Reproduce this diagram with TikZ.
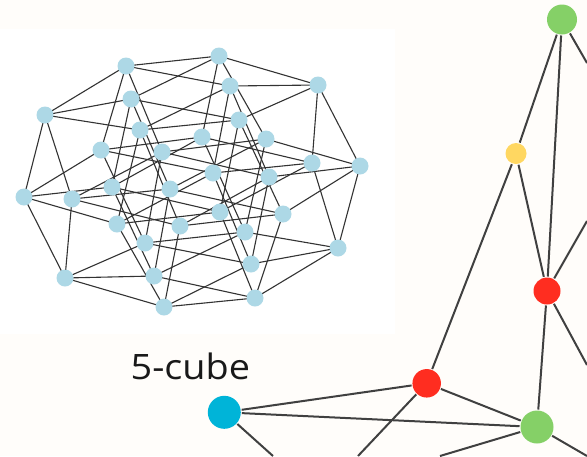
\documentclass[tikz,border=0pt]{standalone}
\usepackage{fontspec}
\setmainfont[FakeStretch=1.08]{Open Sans}
\definecolor{paper}{HTML}{FFFDFA}
\definecolor{cubeblue}{HTML}{ADD8E6}
\definecolor{wire}{HTML}{404040}
\definecolor{leaf}{HTML}{85D067}
\definecolor{sun}{HTML}{FFD761}
\definecolor{hot}{HTML}{FF2D20}
\definecolor{sky}{HTML}{00B4D8}
\tikzset{
  cubev/.style={circle,fill=cubeblue,draw=none,minimum size=17pt,inner sep=0pt},
  cubee/.style={draw=black!80,line width=1.1pt},
  bigv/.style={circle,draw=none,inner sep=0pt,outer sep=1pt},
  bige/.style={draw=wire,line width=2pt}
}
\begin{document}
\begin{tikzpicture}[x=1pt,y=-1pt]
\useasboundingbox (0,0) rectangle (587,456);
\fill[paper] (0,0) rectangle (587,456);
\fill[white] (0,29) rectangle (395,334);
% 5-cube vertices, named by the binary label of each corner
\foreach \n/\x/\y in {0/45/115,1/126/66,2/131/99,4/140/130,8/24/197,16/72/199,
  3/219/56,5/230/86,6/239/120,9/101/150,10/112/187,12/117/224,17/162/152,18/170/189,20/180/226,24/65/278,
  7/318/85,11/202/137,13/213/173,14/220/212,19/266/139,21/269/177,22/283/214,25/145/243,26/154/276,28/164/307,
  15/312/163,23/360/166,27/245/232,29/251/264,30/255/298,31/338/248}
  \coordinate (p\n) at (\x,\y);
\foreach \a/\blist in {0/{1,2,4,8,16},3/{1,2,7,11,19},5/{1,4,7,13,21},6/{2,4,7,14,22},
  9/{1,8,11,13,25},10/{2,8,11,14,26},12/{4,8,13,14,28},17/{1,16,19,21,25},
  18/{2,16,19,22,26},20/{4,16,21,22,28},24/{8,16,25,26,28},15/{7,11,13,14,31},
  23/{7,19,21,22,31},27/{11,19,25,26,31},29/{13,21,25,28,31},30/{14,22,26,28,31}}
  \foreach \b in \blist
    \draw[cubee] (p\a) -- (p\b);
\foreach \n in {0,...,31}
  \node[cubev] (c\n) at (p\n) {};
% label
\node[anchor=base west,inner sep=0pt,text=black!90,font=\fontsize{35}{35}\selectfont] (title) at (130.5,379) {5-cube};
% right graph
\node[bigv,fill=leaf,minimum size=30pt] (gtop) at (562,19.5) {};
\node[bigv,fill=sun,minimum size=21pt] (yel) at (516,153.5) {};
\node[bigv,fill=hot,minimum size=27pt] (rr) at (547,291) {};
\node[bigv,fill=hot,minimum size=28.5pt] (rl) at (426.7,383.3) {};
\node[bigv,fill=sky,minimum size=33pt] (cy) at (224.3,412.3) {};
\node[bigv,fill=leaf,minimum size=33pt] (gb) at (537,427) {};
\coordinate (e1) at (587,63);
\coordinate (e2) at (587,221);
\coordinate (e3) at (587,365);
\coordinate (e4) at (358,456);
\coordinate (e5) at (273,456);
\coordinate (e6) at (440,456);
\coordinate (e7) at (587,456);
\draw[bige] (gtop) -- (yel);
\draw[bige] (gtop) -- (rr);
\draw[bige] (gtop) -- (e1);
\draw[bige] (yel) -- (rr);
\draw[bige] (yel) -- (rl);
\draw[bige] (rr) -- (gb);
\draw[bige] (rr) -- (e2);
\draw[bige] (rr) -- (e3);
\draw[bige] (rl) -- (cy);
\draw[bige] (rl) -- (gb);
\draw[bige] (rl) -- (e4);
\draw[bige] (cy) -- (gb);
\draw[bige] (cy) -- (e5);
\draw[bige] (gb) -- (e6);
\draw[bige] (gb) -- (e7);
\end{tikzpicture}
\end{document}
